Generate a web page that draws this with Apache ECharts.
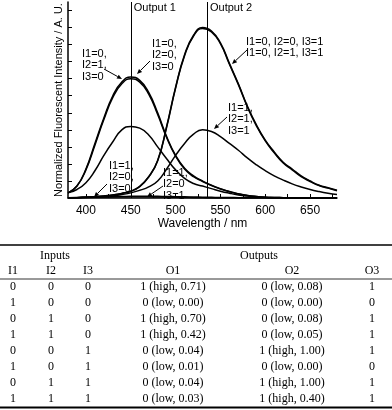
<!DOCTYPE html>
<html>
<head>
<meta charset="utf-8">
<script src="https://cdn.jsdelivr.net/npm/echarts@6/dist/echarts.min.js"></script>
<style>
  html, body { margin: 0; padding: 0; background: #fff; }
  #main { width: 392px; height: 410px; }
</style>
</head>
<body>
<div id="main"></div>
<script>
// wavelength grid (nm)
var wavelengths = [380, 390, 400, 410, 420, 430, 440, 450, 460, 470, 480, 490, 500, 510, 520, 530,
  540, 550, 560, 570, 580, 590, 600, 610, 620, 630, 640, 650, 660, 670, 680];

// normalized emission spectra, one per input combination
var s000 = [0.03, 0.07, 0.17, 0.32, 0.47, 0.60, 0.68, 0.71, 0.69, 0.62, 0.50, 0.36, 0.25, 0.175, 0.13, 0.10,
  0.075, 0.055, 0.038, 0.025, 0.015, 0.009, 0.005, 0.003, 0.002, 0.001, 0, 0, 0, 0, 0];
var s010 = [0.03, 0.07, 0.165, 0.31, 0.46, 0.59, 0.67, 0.70, 0.68, 0.61, 0.49, 0.355, 0.245, 0.17, 0.125, 0.097,
  0.073, 0.053, 0.037, 0.024, 0.015, 0.009, 0.005, 0.003, 0.002, 0.001, 0, 0, 0, 0, 0];
var s110 = [0.03, 0.05, 0.09, 0.16, 0.25, 0.33, 0.40, 0.42, 0.41, 0.37, 0.30, 0.23, 0.165, 0.115, 0.085, 0.07,
  0.055, 0.04, 0.028, 0.018, 0.011, 0.006, 0.003, 0.002, 0.001, 0, 0, 0, 0, 0, 0];
var s100 = [0.002, 0.003, 0.004, 0.005, 0.006, 0.007, 0.008, 0.008, 0.008, 0.007, 0.006, 0.005, 0.004, 0.003, 0.002, 0.001,
  0, 0, 0, 0, 0, 0, 0, 0, 0, 0, 0, 0, 0, 0, 0];
var s101 = [0.001, 0.002, 0.003, 0.004, 0.006, 0.008, 0.009, 0.01, 0.011, 0.011, 0.01, 0.009, 0.008, 0.007, 0.006, 0.005,
  0.004, 0.003, 0.003, 0.002, 0.002, 0.001, 0.001, 0, 0, 0, 0, 0, 0, 0, 0];
var s001 = [0, 0.002, 0.005, 0.008, 0.012, 0.018, 0.027, 0.04, 0.068, 0.125, 0.22, 0.42, 0.65, 0.84, 0.955, 1.0,
  0.98, 0.91, 0.79, 0.67, 0.54, 0.43, 0.34, 0.27, 0.21, 0.17, 0.13, 0.10, 0.075, 0.06, 0.045];
var s011 = [0, 0.002, 0.005, 0.008, 0.012, 0.018, 0.027, 0.04, 0.067, 0.123, 0.218, 0.415, 0.645, 0.835, 0.95, 0.995,
  0.975, 0.905, 0.785, 0.665, 0.535, 0.425, 0.335, 0.265, 0.205, 0.165, 0.125, 0.097, 0.073, 0.058, 0.043];
var s111 = [0, 0.001, 0.003, 0.005, 0.008, 0.012, 0.02, 0.03, 0.045, 0.065, 0.10, 0.17, 0.25, 0.32, 0.375, 0.40,
  0.39, 0.36, 0.32, 0.28, 0.235, 0.195, 0.16, 0.13, 0.105, 0.083, 0.065, 0.05, 0.038, 0.028, 0.02];

var outputLines = [450, 535];
var outputNames = ['Output 1', 'Output 2'];
var xLabelTicks = [400, 450, 500, 550, 600, 650];
var xMinorTicks = [400, 425, 450, 475, 500, 525, 550, 575, 600, 625, 650, 675];
var yTicks = [0.1, 0.2, 0.3, 0.4, 0.5, 0.6, 0.7, 0.8, 0.9, 1.0, 1.1];

// truth table
var colI1 = ['0', '1', '0', '1', '0', '1', '0', '1'];
var colI2 = ['0', '0', '1', '1', '0', '0', '1', '1'];
var colI3 = ['0', '0', '0', '0', '1', '1', '1', '1'];
var colO1 = ['1 (high, 0.71)', '0 (low, 0.00)', '1 (high, 0.70)', '1 (high, 0.42)',
  '0 (low, 0.04)', '0 (low, 0.01)', '0 (low, 0.04)', '0 (low, 0.03)'];
var colO2 = ['0 (low, 0.08)', '0 (low, 0.00)', '0 (low, 0.08)', '0 (low, 0.05)',
  '1 (high, 1.00)', '0 (low, 0.00)', '1 (high, 1.00)', '1 (high, 0.40)'];
var colO3 = ['1', '0', '1', '1', '1', '0', '1', '1'];
var tableHeads = ['I1', 'I2', 'I3', 'O1', 'O2', 'O3'];

var chart = echarts.init(document.getElementById('main'));
var sans = 'Liberation Sans, Arial, sans-serif';
var serif = 'Liberation Serif, Times New Roman, serif';

function pairs(vals) {
  return wavelengths.map(function (w, i) { return [w, vals[i]]; });
}

var spectra = [s000, s010, s110, s100, s101, s001, s011, s111];
var series = spectra.map(function (vals) {
  return {
    type: 'line',
    data: pairs(vals),
    smooth: 0.5,
    symbol: 'none',
    lineStyle: { color: '#000', width: 1.5 },
    z: 3
  };
});
series[0].markLine = {
  silent: true,
  symbol: ['none', 'none'],
  label: { show: false },
  lineStyle: { color: '#000', width: 1, type: 'solid' },
  data: outputLines.map(function (v) { return { xAxis: v }; })
};

chart.setOption({
  animation: false,
  backgroundColor: '#fff',
  grid: { left: 68, right: 55, top: 2, bottom: 212 },
  xAxis: {
    type: 'value',
    min: 380,
    max: 680,
    splitLine: { show: false },
    axisLine: { lineStyle: { color: '#000', width: 1.5 } },
    axisTick: { inside: true, length: 4, customValues: xMinorTicks, lineStyle: { color: '#000' } },
    axisLabel: { customValues: xLabelTicks, color: '#000', fontSize: 12, fontFamily: sans, margin: 7 },
    name: 'Wavelength / nm',
    nameLocation: 'middle',
    nameGap: 17,
    nameTextStyle: { color: '#000', fontSize: 12, fontFamily: sans }
  },
  yAxis: {
    type: 'value',
    min: 0,
    max: 1.15,
    splitLine: { show: false },
    axisLine: { show: true, lineStyle: { color: '#000', width: 1.5 } },
    axisTick: { show: true, inside: true, length: 4, customValues: yTicks, lineStyle: { color: '#000' } },
    axisLabel: { show: false },
    name: 'Normalized Fluorescent Intensity / A. U.',
    nameLocation: 'middle',
    nameGap: 4,
    nameTextStyle: { color: '#000', fontSize: 11, fontFamily: sans }
  },
  series: series
});

// annotations (pixel layout)
var notes = [
  { text: 'I1=0,\nI2=1,\nI3=0', x: 82, y: 48, from: [104, 69], to: [122, 79] },
  { text: 'I1=0,\nI2=0,\nI3=0', x: 152, y: 38, from: [150, 61], to: [137, 74] },
  { text: 'I1=0, I2=0, I3=1\nI1=0, I2=1, I3=1', x: 246, y: 36, from: [247, 50], to: [232, 64] },
  { text: 'I1=1,\nI2=1,\nI3=1', x: 228, y: 102, from: [227, 117], to: [214, 129] },
  { text: 'I1=1,\nI2=0,\nI3=0', x: 109, y: 160, from: [107, 184], to: [94, 197] },
  { text: 'I1=1,\nI2=0\nI3=1', x: 163, y: 167, from: [163, 186], to: [147, 197] }
];

function arrow(a, b) {
  var dx = b[0] - a[0], dy = b[1] - a[1];
  var len = Math.sqrt(dx * dx + dy * dy);
  var ux = dx / len, uy = dy / len;
  var hl = 5, hw = 2.2;
  var bx = b[0] - ux * hl, by = b[1] - uy * hl;
  return [
    { type: 'line', shape: { x1: a[0], y1: a[1], x2: bx, y2: by }, style: { stroke: '#000', lineWidth: 1 }, z: 10 },
    { type: 'polygon', shape: { points: [[b[0], b[1]], [bx - uy * hw, by + ux * hw], [bx + uy * hw, by - ux * hw]] },
      style: { fill: '#000' }, z: 10 }
  ];
}

var g = [];
outputLines.forEach(function (v, i) {
  var px = chart.convertToPixel({ xAxisIndex: 0 }, v);
  g.push({ type: 'text', x: px + 3, y: 2, z: 10,
    style: { text: outputNames[i], font: '11px ' + sans, fill: '#000', textVerticalAlign: 'top' } });
});
notes.forEach(function (n) {
  g.push({ type: 'text', x: n.x, y: n.y, z: 10,
    style: { text: n.text, font: '11px ' + sans, fill: '#000', lineHeight: 11.5, textVerticalAlign: 'top' } });
  arrow(n.from, n.to).forEach(function (e) { g.push(e); });
});

// table
var colX = [13, 51, 88, 173, 292, 372];
var rowY0 = 287, rowH = 16;
function cell(t, x, y) {
  return { type: 'text', x: x, y: y, z: 10,
    style: { text: t, font: '12px ' + serif, fill: '#000', textAlign: 'center', textVerticalAlign: 'middle' } };
}
function rule(y, w) {
  return { type: 'line', shape: { x1: 0, y1: y, x2: 392, y2: y }, style: { stroke: '#000', lineWidth: w }, z: 10 };
}
g.push(rule(245, 1.5));
g.push(rule(279, 0.8));
g.push(rule(407.5, 2));
g.push(cell('Inputs', 55, 256));
g.push(cell('Outputs', 259, 256));
tableHeads.forEach(function (h, i) { g.push(cell(h, colX[i], 271)); });
var cols = [colI1, colI2, colI3, colO1, colO2, colO3];
cols.forEach(function (col, c) {
  col.forEach(function (t, r) { g.push(cell(t, colX[c], rowY0 + r * rowH)); });
});

chart.setOption({ graphic: g });
</script>
</body>
</html>
